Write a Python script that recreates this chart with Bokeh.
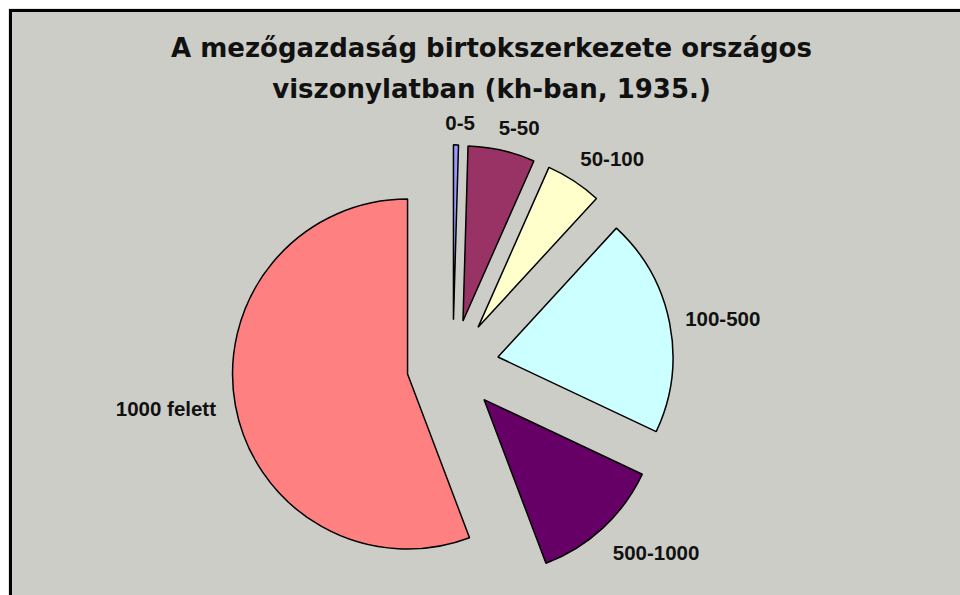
import math
from bokeh.plotting import figure
from bokeh.models import Range1d, ColumnDataSource
from bokeh.core.properties import value
from bokeh.embed import file_html
from bokeh.resources import INLINE

# ---- data ----
categories = ["0-5", "5-50", "50-100", "100-500", "500-1000", "1000 felett"]
shares = [0.46, 6.18, 5.19, 20.19, 12.22, 55.76]   # % of land area
colors = ["#9999FF", "#993366", "#FFFFCC", "#CCFFFF", "#660066", "#FF8080"]
title_lines = ["A mezőgazdaság birtokszerkezete országos",
               "viszonylatban (kh-ban, 1935.)"]

# ---- layout (pixels) ----
W, H = 960, 595
LEFT, TOP = 8, 8
BG = "#CDCDC7"
CX, CY = 452.3, 595 - 365.3      # pie centre in plot coordinates
R = 175                          # pie radius
EXPLODE = 46                     # explosion distance
label_adj = [0.9, 2.8, 4.4, 1.2, -4.7, 2.0]          # degrees from bisector
label_dist = [243, 247, 261, 274, 276, 290]          # distance from centre

p = figure(width=W, height=H, x_range=Range1d(LEFT, W), y_range=Range1d(0, H - TOP),
           output_backend="svg", toolbar_location=None,
           min_border_left=LEFT, min_border_top=TOP, min_border_right=0, min_border_bottom=0,
           background_fill_color=BG, border_fill_color="white",
           outline_line_color=None,
           x_axis_type=None, y_axis_type=None)
p.grid.visible = False

total = sum(shares)
xs, ys, starts, ends, lx, ly = [], [], [], [], [], []
acc = 0.0
for i, s in enumerate(shares):
    a0 = acc / total * 360.0
    acc += s
    a1 = acc / total * 360.0
    mid = (a0 + a1) / 2.0
    xs.append(CX + EXPLODE * math.sin(math.radians(mid)))
    ys.append(CY + EXPLODE * math.cos(math.radians(mid)))
    starts.append(math.radians(90 - a1))
    ends.append(math.radians(90 - a0))
    la = math.radians(mid + label_adj[i])
    lx.append(CX + label_dist[i] * math.sin(la))
    ly.append(CY + label_dist[i] * math.cos(la))

src = ColumnDataSource(dict(x=xs, y=ys, start=starts, end=ends, color=colors,
                            lx=lx, ly=ly, label=categories))
p.wedge(x="x", y="y", radius=R, start_angle="start", end_angle="end",
        fill_color="color", line_color="black", line_width=1.5, source=src)

p.text(x="lx", y="ly", text="label", source=src, text_align="center", text_baseline="middle",
       text_font=value("Liberation Sans"), text_font_style="bold", text_font_size="20.5px",
       text_color="#111111")

# title
p.text(x=[491, 491], y=[595 - 47, 595 - 88], text=title_lines, text_align="center",
       text_baseline="middle", text_font=value("DejaVu Sans"), text_font_style="bold",
       text_font_size="26px", text_color="#111111")

# chart-area border (left and top visible)
p.segment(x0=[10, 8.5], y0=[0, 595 - 10], x1=[10, 962], y1=[595 - 8.5, 595 - 10],
          line_color="black", line_width=3)

open("out.html", "w").write(file_html(p, INLINE))
